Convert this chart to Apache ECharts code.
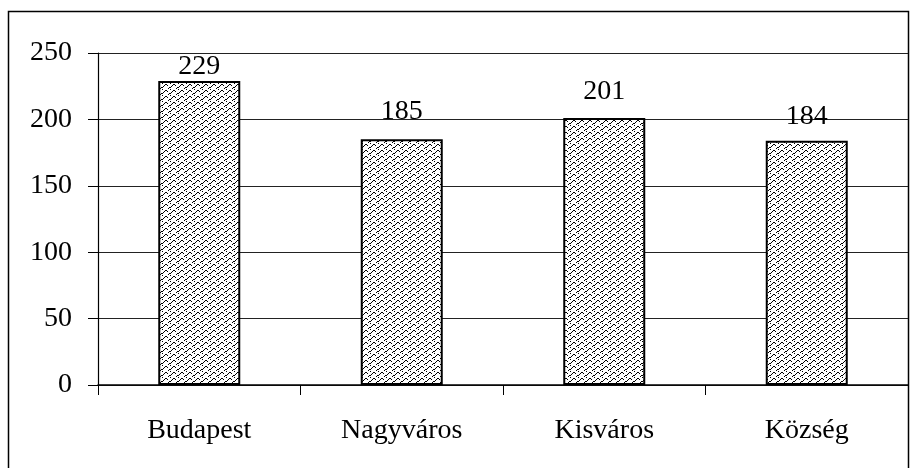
<!DOCTYPE html>
<html lang="hu">
<head>
    <meta charset="UTF-8">
    <script type="text/javascript" src="https://cdn.jsdelivr.net/npm/echarts@6/dist/echarts.min.js"></script>
    <title>Oszlopdiagram</title>
    <style type="text/css">
        html, body { margin: 0; padding: 0; background: #fff; }
        #chart { width: 911px; height: 468px; }
    </style>
</head>
<body>
    <div id="chart"></div>
    <script type="text/javascript">
        let categories = ['Budapest', 'Nagyváros', 'Kisváros', 'Község']
        let values = [229, 185, 201, 184]
        let yTicks = [0, 50, 100, 150, 200, 250]
        // the labels in the original were nudged by hand, not all at the same height
        let labelLift = [0, 14, 12, 10]

        // small zigzag fill like the old office hatch
        function makeHatch() {
            let c = document.createElement('canvas')
            c.width = 8
            c.height = 6
            let ctx = c.getContext('2d')
            ctx.fillStyle = '#fff'
            ctx.fillRect(0, 0, 8, 6)
            ctx.fillStyle = '#000'
            let px = [[5, 0], [6, 0], [4, 1], [3, 2], [1, 3], [2, 3], [0, 4], [2, 5], [7, 1]]
            px.forEach(p => ctx.fillRect(p[0], p[1], 1, 1))
            return c
        }

        let font = 'Liberation Serif'
        let chart = echarts.init(document.getElementById('chart'))
        let hatch = makeHatch()

        let barData = values.map((v, i) => ({
            value: v,
            label: { offset: [0, -labelLift[i]] }
        }))

        let option = {
            animation: false,
            backgroundColor: '#fff',
            graphic: [{
                type: 'rect',
                shape: { x: 8.5, y: 11.5, width: 900, height: 470 },
                style: { fill: 'none', stroke: '#000', lineWidth: 1.5 }
            }],
            grid: { left: 98, right: 3, top: 53, bottom: 83 },
            xAxis: {
                type: 'category',
                data: categories,
                axisLine: { lineStyle: { color: '#000', width: 1.5 } },
                axisTick: { show: true, length: 10, lineStyle: { color: '#000' } },
                axisLabel: { color: '#000', fontFamily: font, fontSize: 28, margin: 32 }
            },
            yAxis: {
                type: 'value',
                min: yTicks[0],
                max: yTicks[yTicks.length - 1],
                interval: 50,
                axisLine: { show: true, lineStyle: { color: '#000', width: 1.2 } },
                axisTick: { show: true, length: 10, lineStyle: { color: '#000' } },
                axisLabel: { color: '#000', fontFamily: font, fontSize: 28, margin: 26 },
                splitLine: { show: true, lineStyle: { color: '#222', width: 1 } }
            },
            series: [{
                type: 'bar',
                data: barData,
                barWidth: 82,
                itemStyle: {
                    color: { image: hatch, repeat: 'repeat' },
                    borderColor: '#000',
                    borderWidth: 2
                },
                label: {
                    show: true,
                    position: 'top',
                    distance: 0,
                    color: '#000',
                    fontFamily: font,
                    fontSize: 28
                }
            }]
        }

        chart.setOption(option)
    </script>
</body>
</html>
